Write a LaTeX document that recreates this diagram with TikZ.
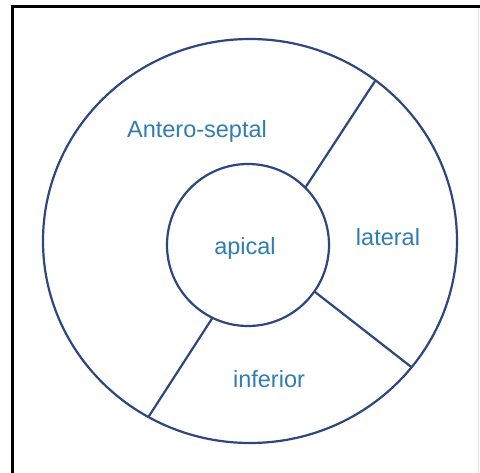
\documentclass[tikz,border=0pt]{standalone}
\usepackage{fontspec}
\setmainfont{Liberation Sans}
\usetikzlibrary{shapes.geometric}
\definecolor{ringline}{HTML}{2E4780}
\definecolor{labelblue}{HTML}{2F7DB3}
\begin{document}
\begin{tikzpicture}[x=1pt,y=-1pt,
  ring/.style={draw=ringline,line width=2.2pt,inner sep=0pt,outer sep=0pt},
  divider/.style={draw=ringline,line width=2.2pt},
  seglabel/.style={text=labelblue,font=\fontsize{23.5}{26}\selectfont,inner sep=0pt}]
\useasboundingbox (0,0) rectangle (480,473);
\fill[white] (0,0) rectangle (480,473);
% frame
\coordinate (fl1) at (12.5,5);
\coordinate (fl2) at (12.5,473);
\coordinate (ft1) at (11,6.5);
\coordinate (ft2) at (480,6.5);
\coordinate (fr1) at (478,8);
\coordinate (fr2) at (478,473);
\draw[line width=3pt,black] (fl1) -- (fl2);
\draw[line width=3pt,black] (ft1) -- (ft2);
\draw[line width=1pt,black!12] (fr1) -- (fr2);
% rings
\node[ring,ellipse,minimum width=414pt,minimum height=404pt] (outer) at (250,241) {};
\node[ring,circle,minimum size=162pt] (inner) at (248,245) {};
% dividers
\draw[divider] (inner.45) -- (outer.52.4);
\draw[divider] (inner.-35.2) -- (outer.-38.8);
\draw[divider] (inner.-116.6) -- (outer.-120.5);
% labels
\node[seglabel] (ant) at (197,131) {Antero-septal};
\node[seglabel] (api) at (245,248) {apical};
\node[seglabel] (lat) at (388,237) {lateral};
\node[seglabel] (inf) at (269,379) {inferior};
\end{tikzpicture}
\end{document}
